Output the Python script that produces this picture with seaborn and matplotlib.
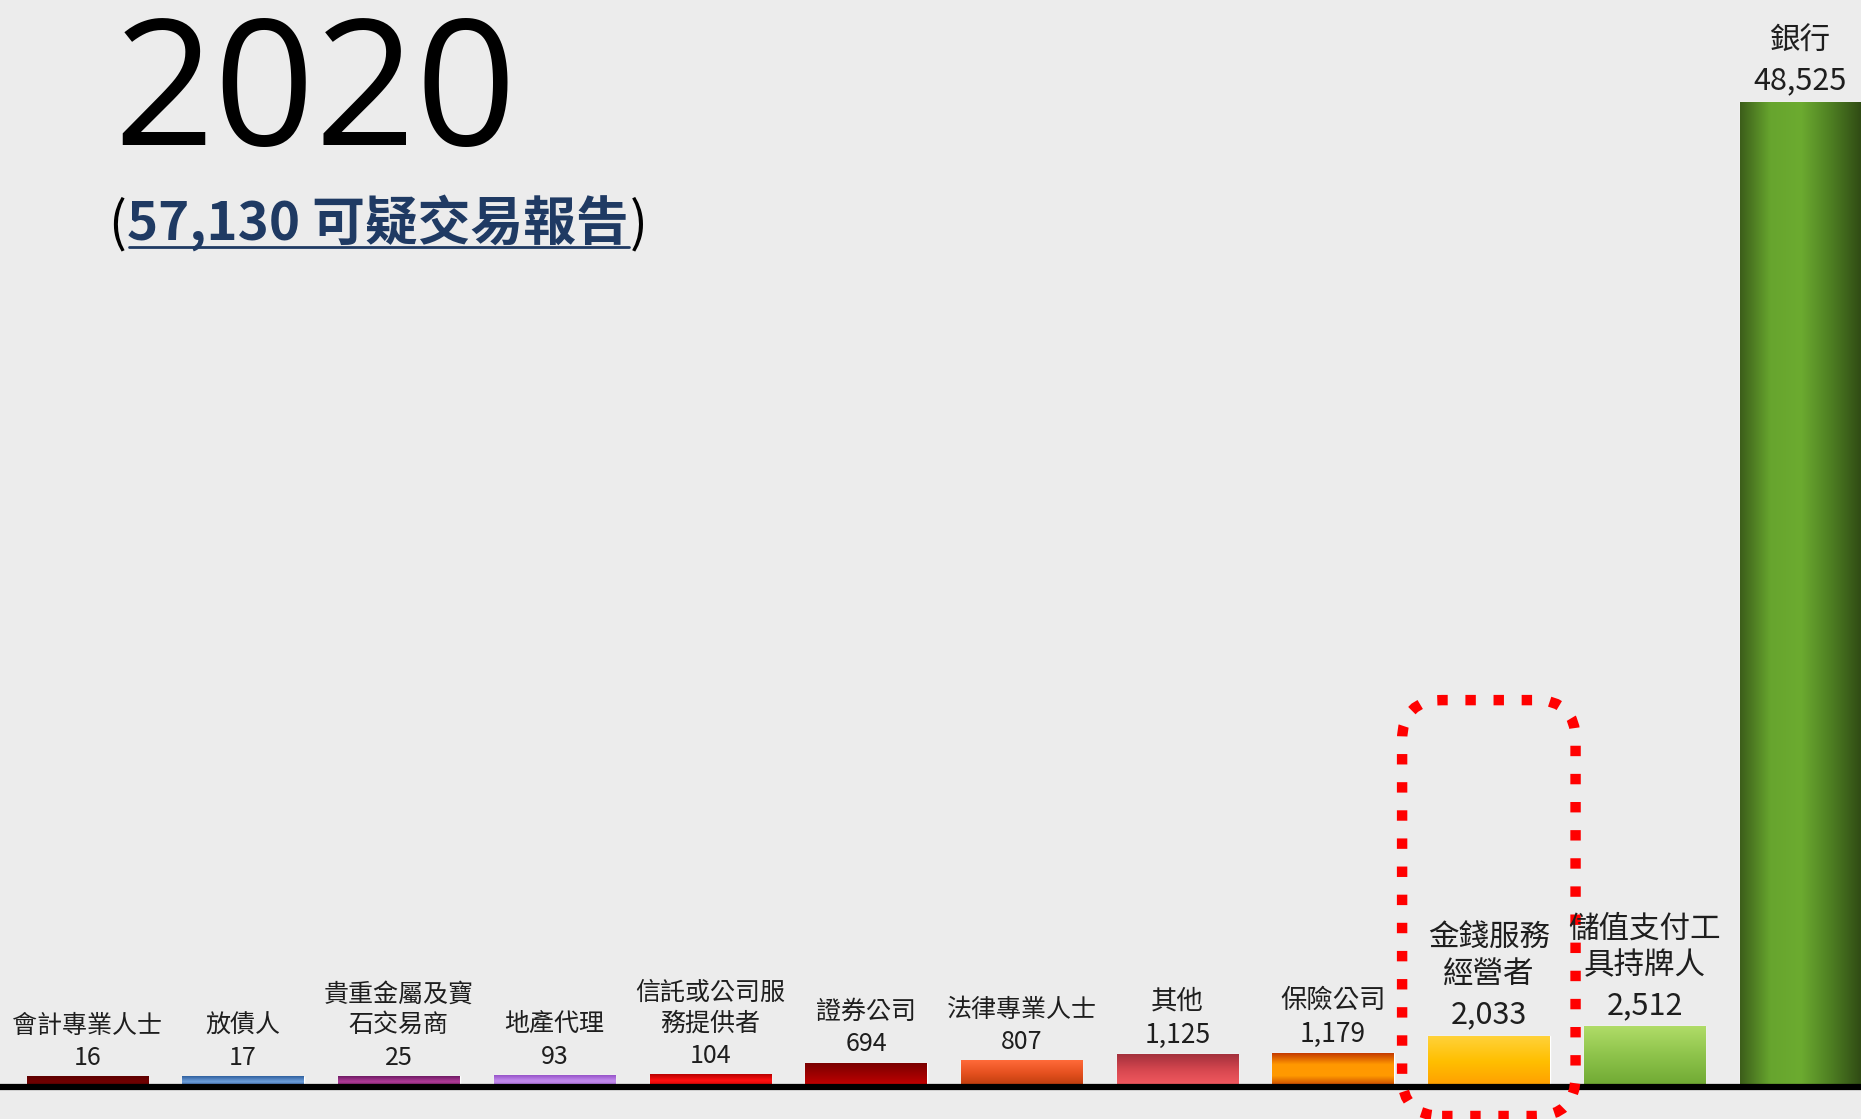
import numpy as np
import pandas as pd
import matplotlib
matplotlib.use('Agg')
import matplotlib.pyplot as plt
import seaborn as sns
from matplotlib.colors import LinearSegmentedColormap
from matplotlib.patches import FancyBboxPatch
from matplotlib.lines import Line2D
from matplotlib.transforms import IdentityTransform

categories = ['會計專業人士', '放債人', '貴重金屬及寶\n石交易商', '地產代理', '信託或公司服\n務提供者',
              '證券公司', '法律專業人士', '其他', '保險公司', '金錢服務\n經營者', '儲值支付工\n具持牌人', '銀行']
reports = [16, 17, 25, 93, 104, 694, 807, 1125, 1179, 2033, 2512, 48525]
total_reports = 57130
year = '2020'
highlight = '金錢服務\n經營者'

# gradient stops, top -> bottom (bank: left -> right)
bar_shades = [
    ['#5e0000', '#700000', '#5a0000'],
    ['#2f5f9e', '#6d9fdb', '#2a5594'],
    ['#6e1a63', '#b03c98', '#6a185e'],
    ['#9652c8', '#c58ff0', '#9a58cc'],
    ['#b80000', '#ff1010', '#c80000'],
    ['#7a0000', '#a00000', '#c80000'],
    ['#ff6a3a', '#e4501e', '#b83a0c'],
    ['#a3303c', '#d84850', '#f65c62'],
    ['#c43a00', '#ff9800', '#ff9a00', '#c23c00'],
    ['#ffd23a', '#ffbf00', '#ff9d00'],
    ['#b0dc68', '#8cc24a', '#6ea832'],
    ['#3c5e1a', '#67a52e', '#6cab30', '#4e7e22', '#2f4a14'],
]
label_sizes = [18] * 7 + [19, 19] + [22] * 3

sns.set_theme(style='white')
plt.rcParams['font.family'] = ['Noto Sans CJK TC', 'DejaVu Sans']

W, H = 1861, 1119
fig = plt.figure(figsize=(W / 100, H / 100), dpi=100)
fig.patch.set_facecolor('#ececec')
ax = fig.add_axes([0, 0, 1, 1])
ax.set_facecolor('none')

df = pd.DataFrame({'cat': categories, 'n': reports})
sns.barplot(data=df, x='cat', y='n', hue='cat', palette=[s[len(s) // 2] for s in bar_shades],
            legend=False, width=0.78, saturation=1, ax=ax)

# small counts get lifted a little so they stay visible (like the original slide)
lift = 500
def fwd(v):
    v = np.asarray(v, float)
    return np.where(v > 0, v + lift, v)
def inv(u):
    u = np.asarray(u, float)
    return np.where(u > lift, u - lift, np.minimum(u, 0))
ax.set_yscale('function', functions=(fwd, inv))

k = float(fwd(max(reports))) / 985
ax.set_ylim(-32 * k, (H - 32) * k - lift)
ax.set_xlim(-0.561, len(categories) - 1 + 0.39)
ax.set_axis_off()
ax.autoscale(False)
ax.axhline(0, color='black', lw=4.5, zorder=5)

fig.canvas.draw()
bars = [c[0] for c in ax.containers]
for i, bar in enumerate(bars):
    cmap = LinearSegmentedColormap.from_list('g%d' % i, bar_shades[i])
    ramp = cmap(np.linspace(0, 1, 256))
    img = ramp[None, :, :] if categories[i] == '銀行' else ramp[:, None, :]
    bb = bar.get_window_extent()
    (x0, y0), (x1, y1) = ax.transAxes.inverted().transform([[bb.x0, bb.y0], [bb.x1, bb.y1]])
    ax.imshow(img, extent=(x0, x1, y0, y1), transform=ax.transAxes, aspect='auto',
              origin='upper', interpolation='bilinear', zorder=bar.get_zorder() + 0.1,
              clip_path=bar)

    v = reports[i]
    fs = label_sizes[i]
    ax.annotate(f'{v:,}', xy=(i, v), xytext=(0, 4), textcoords='offset points',
                ha='center', va='bottom', fontsize=fs, color='#1e1e1e', zorder=7)
    ax.annotate(categories[i], xy=(i, v), xytext=(0, 4 + fs * 1.3), textcoords='offset points',
                ha='center', va='bottom', fontsize=fs, color='#1e1e1e', linespacing=1.25, zorder=7)

# dotted highlight box
hb = bars[categories.index(highlight)].get_window_extent()
box = FancyBboxPatch((hb.x0 - 26, hb.y0 - 29), hb.width + 52, (hb.y1 + 336) - (hb.y0 - 29),
                     boxstyle='round,pad=0,rounding_size=40', transform=IdentityTransform(),
                     fill=False, edgecolor='#ff0000', lw=7.5, linestyle=(0, (1.0, 1.7)),
                     capstyle='butt', zorder=6, clip_on=False)
ax.add_patch(box)

# year and total
fig.text(113 / W, 1 - 145 / H, year, fontsize=127, family=['Open Sans', 'DejaVu Sans'],
         color='black', va='baseline', ha='left')

yb = 1 - 240 / H
t1 = fig.text(108 / W, yb, '(', fontsize=38, color='black', va='baseline', ha='left')
fig.canvas.draw()
r = fig.canvas.get_renderer()
e1 = t1.get_window_extent(r)
t2 = fig.text((e1.x1 + 1) / W, yb, f'{total_reports:,} 可疑交易報告', fontsize=38, fontweight='bold',
              color='#1f3a63', va='baseline', ha='left')
e2 = t2.get_window_extent(r)
t3 = fig.text((e2.x1 + 1) / W, yb, ')', fontsize=38, color='black', va='baseline', ha='left')
uy = H - 247
fig.add_artist(Line2D([e2.x0 + 2, e2.x1], [uy, uy], transform=IdentityTransform(),
                      color='#1f3a63', lw=2))

fig.savefig('out.png', dpi=100, facecolor=fig.get_facecolor())
